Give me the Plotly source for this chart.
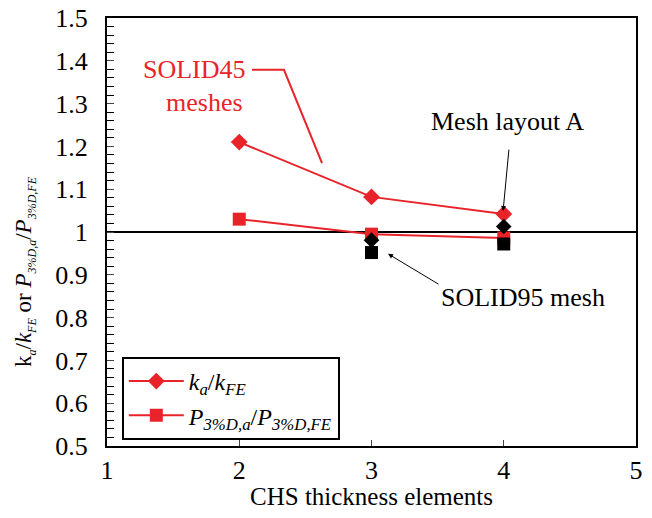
import plotly.graph_objects as go

x_vals = [2, 3, 4]
ka_ratio = [1.21, 1.082, 1.042]
p_ratio = [1.03, 0.995, 0.986]
x_solid95 = [3, 4]
ka_solid95 = [0.981, 1.013]
p_solid95 = [0.952, 0.972]

red = "#E8242A"
font_family = "Liberation Serif, Times New Roman, serif"

fig = go.Figure()
fig.add_trace(go.Scatter(x=x_vals, y=ka_ratio, mode="lines+markers",
                         line=dict(color=red, width=2),
                         marker=dict(symbol="diamond", size=13, color=red),
                         name="<i>k<sub>a</sub></i>/<i>k<sub>FE</sub></i>"))
fig.add_trace(go.Scatter(x=x_vals, y=p_ratio, mode="lines+markers",
                         line=dict(color=red, width=2),
                         marker=dict(symbol="square", size=13, color=red),
                         name="<i>P<sub>3%D,a</sub></i>/<i>P<sub>3%D,FE</sub></i>"))
fig.add_trace(go.Scatter(x=x_solid95, y=ka_solid95, mode="markers",
                         marker=dict(symbol="diamond", size=12, color="black"),
                         showlegend=False))
fig.add_trace(go.Scatter(x=x_solid95, y=p_solid95, mode="markers",
                         marker=dict(symbol="square", size=13, color="black"),
                         showlegend=False))

# reference line at 1
fig.add_shape(type="line", xref="paper", yref="y", x0=0, x1=1, y0=1, y1=1,
              line=dict(color="black", width=2), layer="below")

# SOLID45 leader line
fig.add_shape(type="path", xref="x", yref="y",
              path="M 2.096 1.379 L 2.338 1.379 L 2.626 1.161",
              line=dict(color=red, width=2))

ann_font = dict(size=26, family=font_family)
fig.add_annotation(x=1.66, y=1.379, xref="x", yref="y", text="SOLID45",
                   showarrow=False, font=dict(color=red, **ann_font))
fig.add_annotation(x=1.74, y=1.302, xref="x", yref="y", text="meshes",
                   showarrow=False, font=dict(color=red, **ann_font))

fig.add_annotation(x=4.03, y=1.259, xref="x", yref="y", text="Mesh layout A",
                   showarrow=False, font=dict(color="black", **ann_font))
fig.add_annotation(x=3.995, y=1.049, ax=4.04, ay=1.196, xref="x", yref="y",
                   axref="x", ayref="y", text="", showarrow=True,
                   arrowhead=2, arrowsize=1, arrowwidth=1, arrowcolor="black")

fig.add_annotation(x=4.146, y=0.846, xref="x", yref="y", text="SOLID95 mesh",
                   showarrow=False, font=dict(color="black", **ann_font))
fig.add_annotation(x=3.125, y=0.949, ax=3.518, ay=0.876, xref="x", yref="y",
                   axref="x", ayref="y", text="", showarrow=True,
                   arrowhead=2, arrowsize=1, arrowwidth=1, arrowcolor="black")

# y-axis title as rotated annotation
def sub(t):
    return "<sub><span style='font-size:12px'>" + t + "</span></sub>"

y_title = ("k" + sub("<i>a</i>") + "/<i>k</i>" + sub("<i>FE</i>") + " or <i>P</i>"
           + sub("<i>3%D,a</i>") + "/<i>P</i>" + sub("<i>3%D,FE</i>"))
fig.add_annotation(x=-82 / 529, y=(446 - 272) / 428, xref="paper", yref="paper",
                   xanchor="center", yanchor="middle",
                   text=y_title, textangle=-90, showarrow=False,
                   font=dict(size=23, family=font_family, color="black"))

# x-axis title as annotation
fig.add_annotation(x=0.5, y=-50 / 428, xref="paper", yref="paper",
                   xanchor="center", yanchor="middle",
                   text="CHS thickness elements", showarrow=False,
                   font=dict(size=25, family=font_family, color="black"))

fig.update_layout(
    width=652, height=518,
    margin=dict(l=107, r=16, t=18, b=72),
    paper_bgcolor="white", plot_bgcolor="white",
    font=dict(family=font_family, size=24, color="black"),
    legend=dict(x=0.028, y=0.208, xanchor="left", yanchor="top",
                bordercolor="black", borderwidth=2, bgcolor="white",
                font=dict(size=24), tracegroupgap=0, itemwidth=55),
    xaxis=dict(range=[1, 5], dtick=1, tick0=1, ticks="inside", ticklen=6,
               showline=True, linecolor="black", linewidth=2, mirror=True,
               showgrid=False, zeroline=False, automargin=False,
               tickfont=dict(size=26), ticklabelstandoff=0),
    yaxis=dict(range=[0.5, 1.5], dtick=0.1, tick0=0.5, ticks="inside", ticklen=7,
               minor=dict(dtick=0.02, ticks="inside", ticklen=7, tickcolor="black"),
               showline=True, linecolor="black", linewidth=2, mirror=True,
               showgrid=False, zeroline=False, automargin=False,
               tickfont=dict(size=26), ticklabelstandoff=12),
)

fig.write_html("out.html", config={"displayModeBar": False},
               post_script="document.body.style.margin='0';")
